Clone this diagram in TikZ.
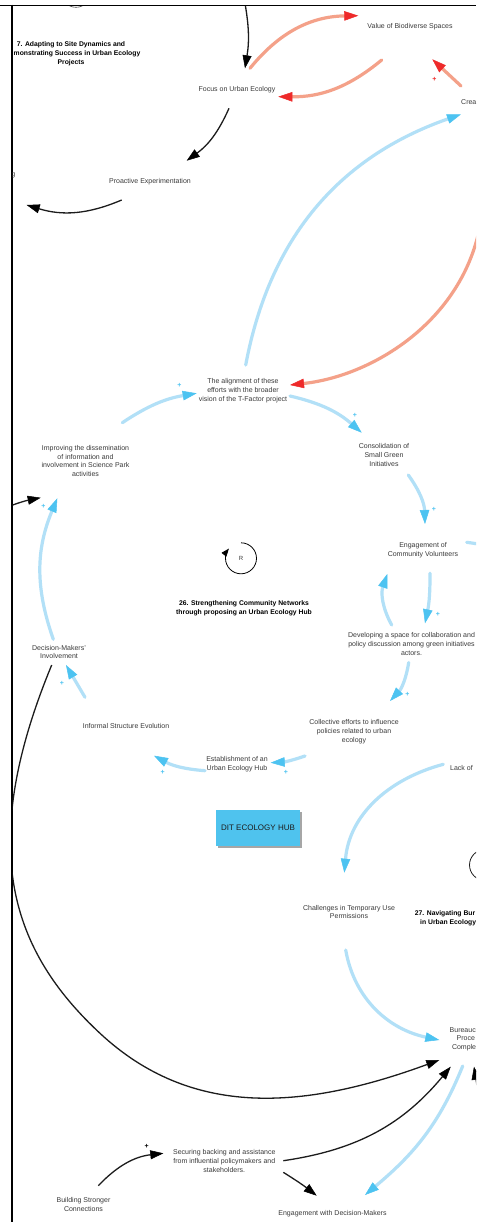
\documentclass[tikz,border=0pt]{standalone}
\usepackage{fontspec}
\setmainfont{Liberation Sans}
\usetikzlibrary{arrows.meta,shadows}
\definecolor{salmonc}{HTML}{F4A189}
\definecolor{arrred}{HTML}{EE2A2A}
\definecolor{lblue}{HTML}{B2E0F7}
\definecolor{dblue}{HTML}{4DC3F1}
\definecolor{inkc}{HTML}{1C1C1C}
\definecolor{txtc}{HTML}{3A3A3A}
\definecolor{hubc}{HTML}{4FC3EE}
\begin{document}
\begin{tikzpicture}[x=1pt,y=1pt,
  lab/.style={font=\fontsize{7}{8.9}\selectfont, text=txtc, align=center, inner sep=0pt},
  ttl/.style={font=\fontsize{6.8}{9}\selectfont\bfseries, text=black, align=center, inner sep=0pt},
  plusb/.style={font=\fontsize{7}{7}\selectfont\bfseries, text=dblue, inner sep=0pt},
  plusr/.style={font=\fontsize{7}{7}\selectfont\bfseries, text=arrred, inner sep=0pt},
  plusk/.style={font=\fontsize{7}{7}\selectfont\bfseries, text=black, inner sep=0pt},
  bluelink/.style={draw=lblue, line width=3.2pt, line cap=round, -{Triangle[length=14pt,width=9.5pt,color=dblue,line width=0.5pt]}},
  bluebare/.style={draw=lblue, line width=3.2pt, line cap=round},
  redlink/.style={draw=salmonc, line width=3.2pt, line cap=round, -{Triangle[length=14pt,width=9.5pt,color=arrred,line width=0.5pt]}},
  blacklink/.style={draw=inkc, line width=1.3pt, -{Triangle[length=13pt,width=9pt,color=black,line width=0.5pt]}},
  thinloop/.style={draw=black, line width=0.8pt, -{Triangle[length=8pt,width=6pt]}},
  framec/.style={draw=black, line width=1.6pt}
]
\useasboundingbox (0,0) rectangle (476,-1222);
\fill[white] (0,0) rectangle (476,-1222);
\draw[framec] (0,-5.5) -- (476,-5.5);
\draw[framec] (11.8,-4.7) -- (11.8,-1222);
\begin{scope}
\clip (12.7,-6.3) rectangle (476,-1222);
% loop symbols cut by the frame
\node[circle, draw=inkc!80, fill=white, line width=0.6pt, minimum size=30pt, inner sep=0pt] (looptop) at (76,7.7) {};
\node[circle, draw=inkc, line width=0.8pt, minimum size=31pt, inner sep=0pt] (loop27) at (485,-865) {};
% titles
\node[ttl] (title7) at (71,-53.6) {7. Adapting to Site Dynamics and\\\hspace*{12pt}monstrating Success in Urban Ecology\\Projects};
\node[ttl] (title26) at (244,-608.2) {26. Strengthening Community Networks\\through proposing an Urban Ecology Hub};
\node[ttl, align=left, anchor=north west] (title27) at (414.7,-910.3) {27. Navigating Bur\\\hspace*{5.3pt}in Urban Ecology};
% variables
\node[lab] (focus) at (237,-89.3) {Focus on Urban Ecology};
\node[lab] (value) at (410,-26.3) {Value of Biodiverse Spaces};
\node[lab, anchor=west] (crea) at (461,-102.3) {Crea};
\node[lab] (proact) at (150,-181.3) {Proactive Experimentation};
\node[lab, anchor=east] (gfrag) at (15.4,-175) {g};
\node[lab] (align) at (243,-391) {The alignment of these\\efforts with the broader\\vision of the T-Factor project};
\node[lab] (improv) at (85.5,-461) {Improving the dissemination\\of information and\\involvement in Science Park\\activities};
\node[lab] (consol) at (384,-455) {Consolidation of\\Small Green\\Initiatives};
\node[lab] (engvol) at (423,-550) {Engagement of\\Community Volunteers};
\node[font=\fontsize{6}{7}\selectfont, text=txtc, inner sep=0pt] (rloop) at (241,-558.3) {R};
\node[lab] (devsp) at (411.5,-644.3) {Developing a space for collaboration and\\policy discussion among green initiatives\\actors.};
\node[lab] (decmk) at (59,-652) {Decision-Makers'\\Involvement};
\node[lab] (informal) at (126,-726.3) {Informal Structure Evolution};
\node[lab] (collect) at (354,-732) {Collective efforts to influence\\policies related to urban\\ecology};
\node[lab] (estab) at (237,-764.3) {Establishment of an\\Urban Ecology Hub};
\node[lab, anchor=west] (lack) at (450,-768.3) {Lack of};
\node[rectangle, fill=hubc, minimum width=84pt, minimum height=35.7pt, inner sep=0pt,
      font=\fontsize{8}{9}\selectfont, text=inkc,
      drop shadow={shadow xshift=1.8pt, shadow yshift=-1.8pt, fill=black!35, opacity=1}] (hub) at (258,-828) {DIT ECOLOGY HUB};
\node[lab] (chall) at (349,-912) {Challenges in Temporary Use\\Permissions};
\node[lab, align=left, anchor=west] (bureau) at (449.5,-1039.3) {Bureauc\\\hspace*{7pt}Proce\\\hspace*{2.3pt}Comple};
\node[lab] (secur) at (224.3,-1160.7) {Securing backing and assistance\\from influential policymakers and\\stakeholders.};
\node[lab] (build) at (83.5,-1204.3) {Building Stronger\\Connections};
\node[lab] (engdm) at (332.5,-1213.3) {Engagement with Decision-Makers};
% free ends
\coordinate (topin) at (244,2);
\coordinate (leftout) at (26.7,-205);
\coordinate (salin) at (483,-200);
\coordinate (rightout) at (492,-547);
\coordinate (leftin) at (2,-509);
\coordinate (botin) at (479,-1135);
% R loop
\draw[thinloop] ([shift={(90:15.5)}]rloop.center) arc[start angle=90, end angle=-219, radius=15.5];
% connectors, loop 7
\draw[blacklink] (topin) to[bend left=10] ([shift={(8,21)}]focus.center);
\draw[redlink] ([shift={(13,21)}]focus.center) to[bend left=25] ([shift={(-51.7,10.6)}]value.center);
\draw[redlink] ([shift={(-28.3,-33.7)}]value.center) to[bend left=20] ([shift={(41.3,-7.4)}]focus.center);
\draw[redlink] ([shift={(0,16.3)}]crea.west) -- ([shift={(22.3,-33)}]value.center);
\draw[blacklink] ([shift={(-8,-19)}]focus.center) to[bend left=15] ([shift={(36.7,20.6)}]proact.center);
\draw[blacklink] ([shift={(-28.3,-18.7)}]proact.center) to[bend left=20] (leftout);
\draw[bluelink] ([shift={(2.7,26)}]align.center) to[bend left=30] ([shift={(0,-12)}]crea.west);
\draw[redlink] (salin) .. controls (478,-310) and (380,-375) .. ([shift={(47,6)}]align.center);
% loop 26
\draw[bluelink] ([shift={(36.8,38.3)}]improv.center) to[bend left=12] ([shift={(-46.3,-2.3)}]align.center);
\draw[bluelink] ([shift={(47,-5)}]align.center) to[bend left=14] ([shift={(-22.3,22.3)}]consol.center);
\draw[bluelink] ([shift={(24.3,-20)}]consol.center) to[bend left=17] ([shift={(2,26)}]engvol.center);
\draw[bluebare] ([shift={(43.7,7.7)}]engvol.center) to[bend left=3] (rightout);
\draw[bluelink] ([shift={(7,-23.3)}]engvol.center) to[bend left=6] ([shift={(13.5,21)}]devsp.center);
\draw[bluelink] ([shift={(-19.8,19.3)}]devsp.center) to[bend left=24] ([shift={(-35.7,-24)}]engvol.center);
\draw[bluelink] ([shift={(-2.8,-18.2)}]devsp.center) to[bend left=17] ([shift={(36,31)}]collect.center);
\draw[bluelink] ([shift={(-49,-24)}]collect.center) to[bend left=8] ([shift={(33.7,1.6)}]estab.center);
\draw[bluelink] ([shift={(-32,-6.4)}]estab.center) to[bend left=12] ([shift={(28,-29.4)}]informal.center);
\draw[bluelink] ([shift={(-41,29)}]informal.center) -- ([shift={(7,-13)}]decmk.center);
\draw[bluelink] ([shift={(-5.7,12.7)}]decmk.center) to[bend left=21] ([shift={(-28.2,-37.3)}]improv.center);
\draw[blacklink] (leftin) to[bend left=5] ([shift={(-44.8,-36.7)}]improv.center);
% loop 27 and lower part
\draw[blacklink] ([shift={(-7.3,-13)}]decmk.center) .. controls (-24.7,-849.8) and (12.4,-951.7) .. (100,-1033.3) .. controls (191.3,-1118.3) and (303,-1110) .. ([shift={(-10.2,-20.7)}]bureau.west);
\draw[blacklink] ([shift={(59,0)}]secur.center) to[bend right=21] ([shift={(1.2,-27.4)}]bureau.west);
\draw[blacklink] ([shift={(59,-11.6)}]secur.center) to[bend left=3] ([shift={(-15.8,17.6)}]engdm.center);
\draw[blacklink] ([shift={(14.8,18.6)}]build.center) to[bend left=20] ([shift={(-61,7.4)}]secur.center);
\draw[bluelink] ([shift={(-6.7,4)}]lack.west) to[out=195,in=85] ([shift={(-4.7,39.3)}]chall.center);
\draw[bluelink] ([shift={(-3.3,-38)}]chall.center) to[out=-80,in=168] ([shift={(-10.2,-0.7)}]bureau.west);
\draw[bluelink] ([shift={(13.2,-26.7)}]bureau.west) to[out=-112,in=40] ([shift={(32.5,18.3)}]engdm.center);
\draw[blacklink] (botin) to[bend right=5] ([shift={(24.5,-27.4)}]bureau.west);
% polarity marks
\node[plusr] (pr1) at (434.3,-79) {+};
\node[plusb] (pb1) at (179.3,-385.7) {+};
\node[plusb] (pb2) at (355,-415.7) {+};
\node[plusb] (pb3) at (434,-509.7) {+};
\node[plusb] (pb4) at (438,-614) {+};
\node[plusb] (pb5) at (407.3,-694.7) {+};
\node[plusb] (pb6) at (286,-772.7) {+};
\node[plusb] (pb7) at (162.7,-772.7) {+};
\node[plusb] (pb8) at (62,-683.7) {+};
\node[plusb] (pb9) at (43.3,-506.7) {+};
\node[plusk] (pk1) at (146.7,-1146.7) {+};
\end{scope}
\end{tikzpicture}
\end{document}
